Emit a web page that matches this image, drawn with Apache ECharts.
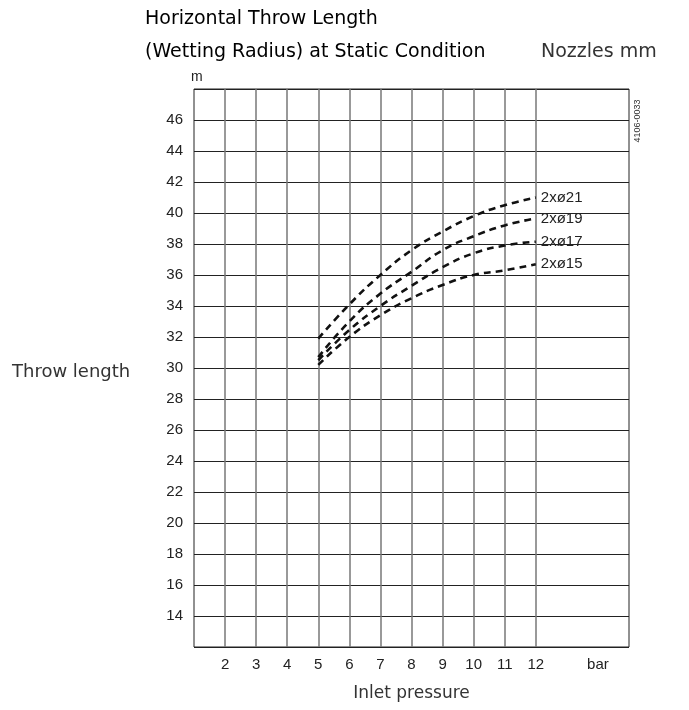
<!DOCTYPE html>
<html>
<head>
<meta charset="utf-8">
<script src="https://cdn.jsdelivr.net/npm/echarts@6/dist/echarts.min.js"></script>
<style>
html,body{margin:0;padding:0;background:#fff;}
#chart{width:689px;height:710px;}
</style>
</head>
<body>
<div id="chart"></div>
<script>
// ---- data ----
var pressure = [5, 6, 7, 8, 9, 10, 11, 12];
var nozzle21 = [31.9, 34.1, 36.0, 37.6, 38.8, 39.8, 40.5, 41.0];
var nozzle19 = [30.7, 33.0, 34.8, 36.2, 37.6, 38.5, 39.2, 39.65];
var nozzle17 = [30.5, 32.45, 34.0, 35.3, 36.5, 37.4, 37.9, 38.15];
var nozzle15 = [30.2, 32.0, 33.4, 34.5, 35.35, 36.0, 36.3, 36.7];
var seriesNames = ['2xø21', '2xø19', '2xø17', '2xø15'];
var xTickValues = [2, 3, 4, 5, 6, 7, 8, 9, 10, 11, 12];
var yTickValues = [14, 16, 18, 20, 22, 24, 26, 28, 30, 32, 34, 36, 38, 40, 42, 44, 46];

var FONT = 'Liberation Sans';
var WIDE = 'DejaVu Sans';
var chart = echarts.init(document.getElementById('chart'), null, {renderer: 'canvas'});

function pairs(vals) {
  return pressure.map(function (p, i) { return [p, vals[i]]; });
}

var curveStyle = {color: '#111', width: 2.6, type: [7, 5]};

function curve(name, vals) {
  return {
    name: name,
    type: 'line',
    data: pairs(vals),
    smooth: true,
    symbol: 'none',
    lineStyle: curveStyle,
    endLabel: {
      show: true,
      formatter: name,
      color: '#222',
      fontFamily: FONT,
      fontSize: 15,
      distance: 5
    },
    z: 5
  };
}

var option = {
  backgroundColor: '#fff',
  animation: false,
  textStyle: {fontFamily: FONT},
  grid: {left: 194, right: 60, top: 89, bottom: 63, show: true, borderColor: '#222', borderWidth: 1},
  xAxis: {
    type: 'value', min: 1, max: 15, interval: 1,
    axisLine: {show: false}, axisTick: {show: false},
    splitLine: {show: false},
    axisLabel: {
      color: '#222', fontSize: 15, fontFamily: FONT, margin: 10,
      formatter: function (v) {
        if (xTickValues.indexOf(v) >= 0) return String(v);
        if (v === 14) return 'bar';
        return '';
      }
    },
    name: 'Inlet pressure', nameLocation: 'middle', nameGap: 38,
    nameTextStyle: {color: '#333', fontSize: 17, fontFamily: WIDE}
  },
  yAxis: {
    type: 'value', min: 12, max: 48, interval: 2,
    axisLine: {show: false}, axisTick: {show: false},
    splitLine: {show: true, lineStyle: {color: '#222', width: 1}},
    axisLabel: {
      color: '#222', fontSize: 15, fontFamily: FONT, margin: 11,
      formatter: function (v) { return yTickValues.indexOf(v) >= 0 ? String(v) : ''; }
    }
  },
  graphic: [
    {type: 'text', left: 145, top: 10, style: {text: 'Horizontal Throw Length', fontSize: 19, fontFamily: WIDE, fill: '#000'}},
    {type: 'text', left: 145, top: 43, style: {text: '(Wetting Radius) at Static Condition', fontSize: 19, fontFamily: WIDE, fill: '#000'}},
    {type: 'text', left: 541, top: 43, style: {text: 'Nozzles mm', fontSize: 19, fontFamily: WIDE, fill: '#333'}},
    {type: 'text', left: 191, top: 70, style: {text: 'm', fontSize: 14, fontFamily: FONT, fill: '#222'}},
    {type: 'text', left: 12, top: 363, style: {text: 'Throw length', fontSize: 18, fontFamily: WIDE, fill: '#333'}},
    {type: 'text', x: 638, y: 121, rotation: Math.PI / 2, style: {text: '4106-0033', fontSize: 9, fontFamily: FONT, fill: '#333', align: 'center', verticalAlign: 'middle'}}
  ],
  series: [
    {
      type: 'line', data: [], silent: true,
      markLine: {
        silent: true, symbol: 'none', label: {show: false},
        lineStyle: {color: '#777', width: 1.5, type: 'solid'},
        data: xTickValues.map(function (v) { return {xAxis: v}; })
      }
    },
    curve(seriesNames[0], nozzle21),
    curve(seriesNames[1], nozzle19),
    curve(seriesNames[2], nozzle17),
    curve(seriesNames[3], nozzle15)
  ]
};
chart.setOption(option);
</script>
</body>
</html>
